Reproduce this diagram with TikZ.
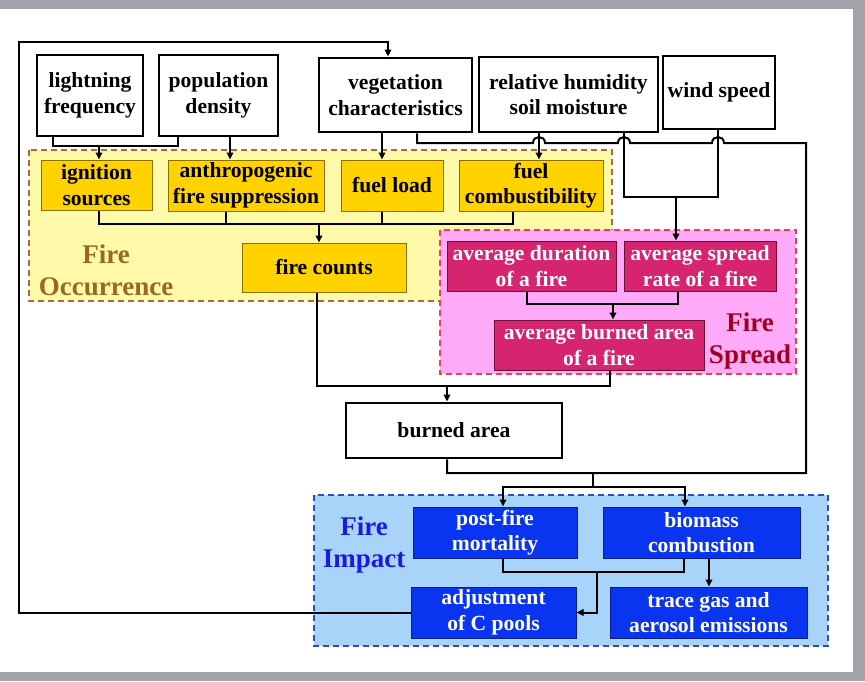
\documentclass[tikz,border=0pt]{standalone}
\usepackage{fontspec}
\setmainfont{Liberation Serif}
\usetikzlibrary{arrows.meta}
\definecolor{framegray}{HTML}{A2A3A8}
\definecolor{yregion}{HTML}{FFFAAA}
\definecolor{yregborder}{HTML}{B0683A}
\definecolor{pregion}{HTML}{FFAAF8}
\definecolor{pregborder}{HTML}{E8404E}
\definecolor{bregion}{HTML}{A8D4FA}
\definecolor{bregborder}{HTML}{2A4EC8}
\definecolor{yfill}{HTML}{FFD200}
\definecolor{yborder}{HTML}{8A7000}
\definecolor{pfill}{HTML}{D6246E}
\definecolor{pborder}{HTML}{6E1034}
\definecolor{bfill}{HTML}{0A35F0}
\definecolor{bborder}{HTML}{0A1E8C}
\definecolor{occtext}{HTML}{9A6A1A}
\definecolor{spreadtext}{HTML}{A00020}
\definecolor{impacttext}{HTML}{1A1AE0}
\begin{document}
\begin{tikzpicture}[x=1pt,y=-1pt,
  box/.style={align=center, inner sep=0pt, font=\bfseries\fontsize{21.6}{25.5}\selectfont},
  wbox/.style={box, draw=black, line width=2.8pt, fill=white, text=black},
  ybox/.style={box, draw=yborder, line width=1pt, fill=yfill, text=black},
  pbox/.style={box, draw=pborder, line width=1pt, fill=pfill, text=white},
  bbox/.style={box, draw=bborder, line width=1pt, fill=bfill, text=white},
  region/.style={dash pattern=on 6pt off 4pt, line width=1.5pt},
  reglabel/.style={align=center, inner sep=0pt, font=\bfseries\fontsize{27}{32}\selectfont},
  conn/.style={line width=2pt, draw=black},
  arr/.style={conn, -{Triangle[length=7pt,width=6.5pt]}}
]
\useasboundingbox (0,0) rectangle (865,681);
\fill[framegray] (0,0) rectangle (865,681);
\fill[white] (0,9) rectangle (853,672);

% regions
\filldraw[region, fill=yregion, draw=yregborder] (29,150) rectangle (612,301);
\filldraw[region, fill=pregion, draw=pregborder] (440,230) rectangle (796,374);
\filldraw[region, fill=bregion, draw=bregborder] (314,495) rectangle (828,646);

\node[reglabel, text=occtext] (occ) at (106,270) {Fire\\Occurrence};
\node[reglabel, text=spreadtext] (spreadlbl) at (750,341) {Fire\\Spread};
\node[reglabel, text=impacttext] (implbl) at (364,545) {Fire\\Impact};

% white boxes
\node[wbox, minimum width=106pt, minimum height=81pt] (light) at (90,95.5) {lightning\\frequency};
\node[wbox, minimum width=119pt, minimum height=81pt] (pop) at (218.5,95.5) {population\\density};
\node[wbox, minimum width=153pt, minimum height=74pt] (veg) at (395.5,95) {vegetation\\characteristics};
\node[wbox, minimum width=179pt, minimum height=75pt] (hum) at (568.5,94.5) {relative humidity\\soil moisture};
\node[wbox, minimum width=112pt, minimum height=73pt] (wind) at (719,92.5) {wind speed};
\node[wbox, minimum width=216pt, minimum height=55pt] (burned) at (454,430.5) {burned area};

% yellow boxes
\node[ybox, minimum width=111pt, minimum height=50pt] (ign) at (96.5,185) {ignition\\sources};
\node[ybox, minimum width=156pt, minimum height=51pt] (anth) at (246,185.5) {anthropogenic\\fire suppression};
\node[ybox, minimum width=102pt, minimum height=51pt] (fload) at (392,185.5) {fuel load};
\node[ybox, minimum width=144pt, minimum height=51pt] (fcomb) at (531,185.5) {fuel\\combustibility};
\node[ybox, minimum width=164pt, minimum height=49pt] (fcount) at (324,267.5) {fire counts};

% pink boxes
\node[pbox, minimum width=169pt, minimum height=50pt] (dur) at (531.5,266) {average duration\\of a fire};
\node[pbox, minimum width=152pt, minimum height=50pt] (spr) at (700,266) {average spread\\rate of a fire};
\node[pbox, minimum width=210pt, minimum height=50pt] (avgb) at (599,345) {average burned area\\of a fire};

% blue boxes
\node[bbox, minimum width=164pt, minimum height=51pt] (mort) at (495,532.5) {post-fire\\mortality};
\node[bbox, minimum width=197pt, minimum height=51pt] (biom) at (701.5,532.5) {biomass\\combustion};
\node[bbox, minimum width=165pt, minimum height=51pt] (adj) at (493.5,612.5) {adjustment\\of C pools};
\node[bbox, minimum width=197pt, minimum height=51pt] (trace) at (708.5,612.5) {trace gas and\\aerosol emissions};

% junction coordinates
\coordinate (jign) at (99,146);
\coordinate (jocc) at (319,224);
\coordinate (jfc) at (447,386);
\coordinate (jsp) at (613,304);
\coordinate (jws) at (676,197);
\coordinate (jba) at (593,473);
\coordinate (jimp) at (593,487);
\coordinate (jmb) at (597,572);
\coordinate (tl) at (19,42);

% lightning + population -> ignition
\draw[conn] ([xshift=-37pt]light.south) -- (53,146) -- (178,146) -- ([xshift=-40.5pt]pop.south);
\draw[arr] (jign) -- ([xshift=2.5pt]ign.north);
% population -> anthropogenic
\draw[arr] ([xshift=11.5pt]pop.south) -- ([xshift=-16pt]anth.north);
% vegetation -> fuel load
\draw[arr] ([xshift=-13.5pt]veg.south) -- ([xshift=-10pt]fload.north);
% humidity -> fuel combustibility
\draw[arr] ([xshift=-29.5pt]hum.south) -- ([xshift=8pt]fcomb.north);
% humidity + wind -> spread rate
\draw[conn] ([xshift=55.5pt]hum.south) -- (624,197) -- (718,197) -- ([xshift=-1pt]wind.south);
\draw[arr] (jws) -- ([xshift=-24pt]spr.north);
% vegetation -> loop to burned area line (with hops)
\draw[conn] ([xshift=21.5pt]veg.south) -- (417,143) -- (533,143)
  .. controls (533,135) and (545,135) .. (545,143) -- (618,143)
  .. controls (618,135) and (630,135) .. (630,143) -- (712,143)
  .. controls (712,135) and (724,135) .. (724,143) -- (806,143)
  -- (806,473) -- (447,473) -- ([xshift=-7pt]burned.south);
% yellow merge -> fire counts
\draw[conn] ([xshift=2.5pt]ign.south) -- (99,224) -- (513,224) -- ([xshift=-18pt]fcomb.south);
\draw[conn] ([xshift=-20pt]anth.south) -- (226,224);
\draw[conn] ([xshift=-10pt]fload.south) -- (382,224);
\draw[arr] (jocc) -- ([xshift=-5pt]fcount.north);
% fire counts + avg burned area -> burned area
\draw[conn] ([xshift=-7pt]fcount.south) -- (317,386) -- (610,386) -- ([xshift=11pt]avgb.south);
\draw[arr] (jfc) -- ([xshift=-7pt]burned.north);
% duration + spread -> avg burned area
\draw[conn] ([xshift=-4.5pt]dur.south) -- (527,304) -- (678,304) -- ([xshift=-22pt]spr.south);
\draw[arr] (jsp) -- ([xshift=14pt]avgb.north);
% burned area -> impacts
\draw[conn] (jba) -- (jimp);
\draw[arr] (jimp) -- (503,487) -- ([xshift=8pt]mort.north);
\draw[arr] (jimp) -- (685,487) -- ([xshift=-16.5pt]biom.north);
% mortality + biomass -> adjustment
\draw[conn] ([xshift=8pt]mort.south) -- (503,572) -- (684,572) -- ([xshift=-17.5pt]biom.south);
\draw[arr] (jmb) -- (597,612.5) -- (adj.east);
% biomass -> trace gas
\draw[arr] ([xshift=7.5pt]biom.south) -- ([xshift=0.5pt]trace.north);
% feedback loop
\draw[arr] (adj.west) -- (adj.west -| tl) -- (tl) -- (388,42) -- ([xshift=-7.5pt]veg.north);
\end{tikzpicture}
\end{document}
